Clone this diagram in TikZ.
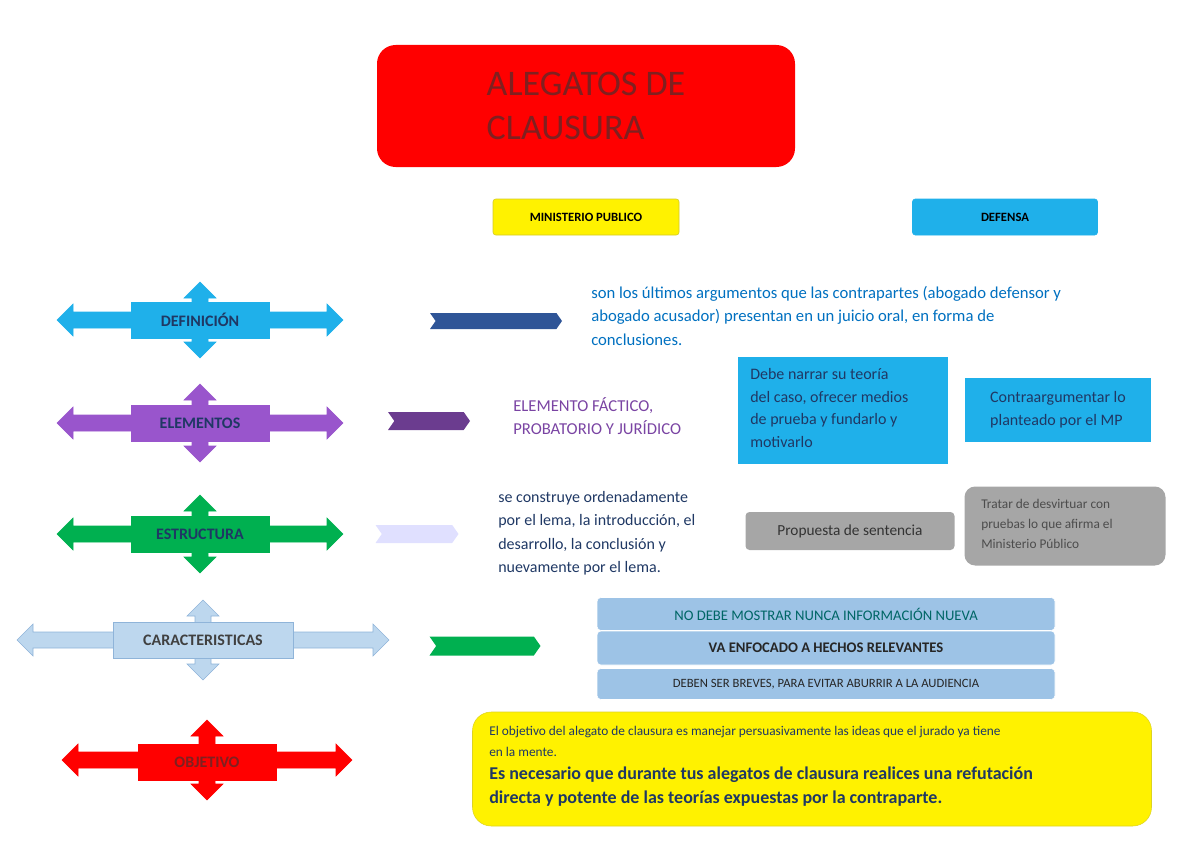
\documentclass[tikz,border=0pt]{standalone}
\usepackage{fontspec}
\setmainfont{Carlito}
\usetikzlibrary{shapes.symbols}
\definecolor{cdef}{HTML}{1FB0EA}
\definecolor{cpur}{HTML}{9955CC}
\definecolor{cgrn}{HTML}{00B050}
\definecolor{clb}{HTML}{BDD7EE}
\definecolor{clbd}{HTML}{8FB4D9}
\definecolor{cred}{HTML}{FF0000}
\definecolor{ctit}{HTML}{7F2020}
\definecolor{ctxt}{HTML}{0070C0}
\definecolor{cnavy}{HTML}{1F3864}
\definecolor{cgry}{HTML}{A6A6A6}
\definecolor{cbox}{HTML}{9DC3E6}
\definecolor{cchev}{HTML}{2F5597}
\newcommand\FourArrow[7]{%
\begin{scope}[shift={(#1,#2)}]
\filldraw[fill=#6,draw=#7] (-#3,0) -- (-#3+16,-16) -- (-#3+16,-8) -- (#3-16,-8) -- (#3-16,-16) -- (#3,0) -- (#3-16,16) -- (#3-16,8) -- (-#3+16,8) -- (-#3+16,16) -- cycle;
\filldraw[fill=#6,draw=#7] (0,-#4) -- (-16,-#4+16) -- (-8,-#4+16) -- (-8,#4-16) -- (-16,#4-16) -- (0,#4) -- (16,#4-16) -- (8,#4-16) -- (8,-#4+16) -- (16,-#4+16) -- cycle;
\end{scope}}
\tikzset{
 cbx/.style={draw=#1,fill=#1,font=\bfseries\fontsize{12}{14}\selectfont,text=cnavy,inner sep=0},
 chev/.style={signal,signal from=west,signal to=east,signal pointer angle=110,fill=#1,draw=none,inner sep=0},
 tb/.style={align=left,anchor=north west,inner sep=0},
}
\begin{document}
\begin{tikzpicture}[x=0.75pt,y=-0.75pt]
\useasboundingbox (0,0) rectangle (1200,849);
% title
\node[fill=cred,rounded corners=14pt,minimum width=418*0.75pt,minimum height=122*0.75pt,text=ctit,font=\fontsize{27}{33}\selectfont,align=left] (title) at (586,106) {ALEGATOS DE\\CLAUSURA};
\node[fill=yellow,draw=yellow!80!black,minimum width=186*0.75pt,minimum height=36*0.75pt,font=\bfseries\fontsize{9.5}{11}\selectfont,rounded corners=2pt] (mp) at (586,217) {MINISTERIO PUBLICO};
\node[fill=cdef,draw=cdef,minimum width=185*0.75pt,minimum height=36*0.75pt,font=\bfseries\fontsize{9.5}{11}\selectfont,rounded corners=2pt] (def) at (1005,217) {DEFENSA};
% four-way arrows
\FourArrow{200}{320}{143}{38}{}{cdef}{cdef}
\node[cbx=cdef,minimum width=138*0.75pt,minimum height=36*0.75pt] (n1) at (200,320) {DEFINICIÓN};
\FourArrow{200}{423}{143}{39}{}{cpur}{cpur}
\node[cbx=cpur,minimum width=138*0.75pt,minimum height=36*0.75pt] (n2) at (200,423) {ELEMENTOS};
\FourArrow{200}{534}{143}{39}{}{cgrn}{cgrn}
\node[cbx=cgrn,minimum width=138*0.75pt,minimum height=36*0.75pt] (n3) at (200,534) {ESTRUCTURA};
\FourArrow{203}{640}{186}{40}{}{clb}{clbd}
\node[cbx=clb,draw=clbd,minimum width=180*0.75pt,minimum height=36*0.75pt,text=black!75] (n4) at (203,640) {CARACTERISTICAS};
\FourArrow{207}{760}{145}{40}{}{cred}{cred}
\node[cbx=cred,minimum width=138*0.75pt,minimum height=36*0.75pt,text=ctit] (n5) at (207,762) {OBJETIVO};
% chevrons
\node[chev=cchev,minimum width=132*0.75pt,minimum height=16*0.75pt] (c1) at (496,321) {};
\node[chev=cpur!70!black,minimum width=82*0.75pt,minimum height=18*0.75pt] (c2) at (429,421) {};
\node[chev=blue!12,minimum width=83*0.75pt,minimum height=18*0.75pt] (c3) at (417,534) {};
\node[chev=cgrn,minimum width=111*0.75pt,minimum height=19*0.75pt] (c4) at (485,646) {};
% texts
\node[tb,text=ctxt,font=\fontsize{12.5}{17.5}\selectfont] (t1) at (591,286) {son los últimos argumentos que las contrapartes (abogado defensor y\\abogado acusador) presentan en un juicio oral, en forma de\\conclusiones.};
\node[tb,text=cpur!80!black,font=\fontsize{12.5}{17.5}\selectfont] (t2) at (513,397) {ELEMENTO FÁCTICO,\\PROBATORIO Y JURÍDICO};
\node[fill=cdef,minimum width=210*0.75pt,minimum height=107*0.75pt] (b1) at (843,410) {};
\node[tb,text=cnavy,font=\fontsize{12}{17}\selectfont] at (750,368) {Debe narrar su teoría\\del caso, ofrecer medios\\de prueba y fundarlo y\\motivarlo};
\node[fill=cdef,minimum width=186*0.75pt,minimum height=64*0.75pt,text=cnavy,font=\fontsize{12}{17}\selectfont,align=left] (b2) at (1058,410) {Contraargumentar lo\\planteado por el MP};
\node[tb,text=cnavy,font=\fontsize{12}{17.5}\selectfont] (t3) at (498,491) {se construye ordenadamente\\por el lema, la introducción, el\\desarrollo, la conclusión y\\nuevamente por el lema.};
\node[fill=cgry,rounded corners=3pt,minimum width=209*0.75pt,minimum height=38*0.75pt,text=black!80,font=\fontsize{11.5}{14}\selectfont] (g1) at (850,531) {Propuesta de sentencia};
\node[fill=cgry,rounded corners=8pt,minimum width=201*0.75pt,minimum height=79*0.75pt] (g2) at (1065,526) {};
\node[tb,text=black!70,font=\fontsize{10}{15}\selectfont] at (981,499) {Tratar de desvirtuar con\\pruebas lo que afirma el\\Ministerio Público};
\node[fill=cbox,draw=white,rounded corners=3pt,minimum width=458*0.75pt,minimum height=33*0.75pt,text=teal!80!black,font=\fontsize{11}{13}\selectfont] (s1) at (826,614) {NO DEBE MOSTRAR NUNCA INFORMACIÓN NUEVA};
\node[fill=cbox,draw=white,rounded corners=3pt,minimum width=458*0.75pt,minimum height=34*0.75pt,text=black!85,font=\bfseries\fontsize{11}{13}\selectfont] (s2) at (826,648) {VA ENFOCADO A HECHOS RELEVANTES};
\node[fill=cbox,draw=white,rounded corners=3pt,minimum width=458*0.75pt,minimum height=31*0.75pt,text=black!85,font=\fontsize{9.5}{11}\selectfont] (s3) at (826,684) {DEBEN SER BREVES, PARA EVITAR ABURRIR A LA AUDIENCIA};
\node[fill=yellow,draw=yellow!85!black,rounded corners=14pt,minimum width=679*0.75pt,minimum height=114*0.75pt] (y) at (812,769) {};
\node[tb,text=cnavy,font=\fontsize{10}{15.5}\selectfont] at (489,726) {El objetivo del alegato de clausura es manejar persuasivamente las ideas que el jurado ya tiene\\en la mente.};
\node[tb,text=cnavy,font=\bfseries\fontsize{13.5}{18}\selectfont] at (489,767) {Es necesario que durante tus alegatos de clausura realices una refutación\\directa y potente de las teorías expuestas por la contraparte.};
\end{tikzpicture}
\end{document}
